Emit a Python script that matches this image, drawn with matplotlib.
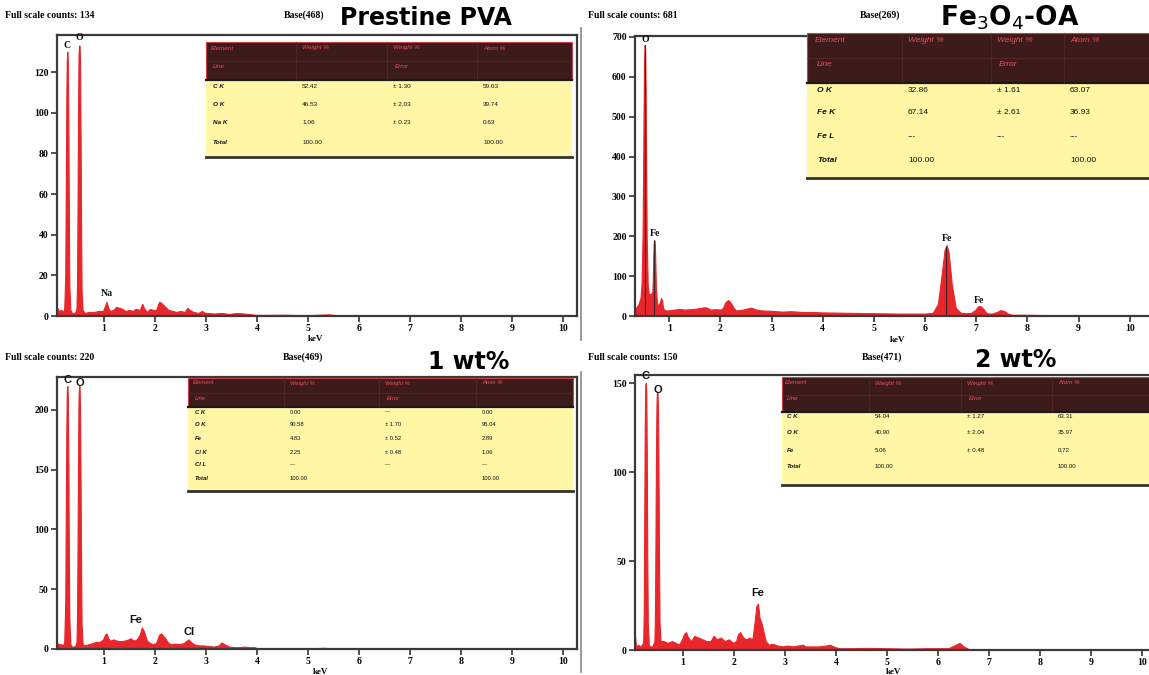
import matplotlib
matplotlib.use('Agg')
import matplotlib.pyplot as plt
from matplotlib.patches import Rectangle

# ---------------- datos de los espectros (keV, cuentas) ----------------
kev_pva = [0.05, 0.08, 0.12, 0.16, 0.20, 0.22, 0.24, 0.25, 0.26, 0.27, 0.28, 0.29, 0.30, 0.31,
           0.32, 0.34, 0.37, 0.41, 0.44, 0.46, 0.47, 0.48, 0.49, 0.50, 0.51, 0.52, 0.53, 0.54,
           0.55, 0.56, 0.58, 0.62,
           0.70, 0.80, 0.90, 0.98, 1.02, 1.05, 1.08, 1.12, 1.18, 1.24, 1.30, 1.36, 1.42, 1.50,
           1.56, 1.62, 1.70, 1.75, 1.78, 1.84, 1.90, 1.96, 2.02, 2.08, 2.12, 2.16, 2.20, 2.26,
           2.34, 2.42, 2.50, 2.58, 2.63, 2.68, 2.75, 2.85, 2.92, 2.98, 3.05, 3.15, 3.30, 3.45,
           3.60, 3.75, 3.90, 4.0, 4.5, 5.0, 5.4, 5.6, 6.0, 7.0, 8.0, 9.0, 10.3]
cts_pva = [8, 4, 2.5, 3, 2, 4, 20, 60, 105, 126, 130, 125, 95, 50,
           15, 3, 1.5, 1.5, 2, 4, 15, 50, 100, 128, 133, 133, 125, 90,
           45, 12, 3, 1.5,
           2, 2, 2.5, 2.5, 5, 7, 4, 2.5, 3, 4.5, 4, 3.5, 2.5, 3,
           2.5, 3.5, 3, 6, 4, 2, 3.5, 3, 3, 7, 6.5, 5.5, 4.5, 3,
           2.5, 2, 2.5, 2, 4, 3, 2, 1.5, 2.5, 1.5, 1.5, 1.2, 1.5, 1,
           1.5, 1.2, 0.8, 0.5, 0.6, 0.4, 0.8, 0.3, 0.3, 0.2, 0.2, 0.1, 0.1]

kev_feoa = [0.33, 0.36, 0.40, 0.44, 0.46, 0.48, 0.49, 0.50, 0.51, 0.52, 0.53, 0.54, 0.55, 0.56,
            0.58, 0.60, 0.64, 0.67, 0.68, 0.69, 0.70, 0.71, 0.72, 0.73, 0.74, 0.76, 0.78, 0.82,
            0.84, 0.86, 0.88, 0.92,
            1.0, 1.1, 1.2, 1.3, 1.4, 1.5, 1.6, 1.7, 1.75, 1.8, 1.9, 2.0, 2.05, 2.1, 2.15, 2.2,
            2.25, 2.3, 2.4, 2.5, 2.6, 2.7, 2.8, 3.0, 3.2, 3.4, 3.6, 3.8, 4.0, 4.5, 5.0, 5.5,
            6.0, 6.15, 6.25, 6.32, 6.38, 6.42, 6.46, 6.52, 6.6, 6.7, 6.8, 6.9, 6.98, 7.03, 7.08,
            7.14, 7.2, 7.3, 7.4, 7.48, 7.55, 7.62, 7.7, 8.0, 8.5, 9.0, 10.0, 10.6]
cts_feoa = [20, 22, 30, 45, 80, 200, 350, 520, 640, 680, 670, 560, 380, 200,
            80, 55, 55, 60, 90, 150, 185, 190, 180, 130, 70, 35, 25, 35,
            45, 40, 20, 14,
            14, 16, 18, 16, 17, 18, 20, 22, 20, 16, 17, 16, 20, 35, 40, 34,
            22, 14, 15, 18, 21, 16, 14, 13, 11, 12, 10, 10, 9, 8, 7, 6,
            6, 8, 30, 100, 165, 178, 160, 80, 20, 8, 7, 8, 15, 24, 25,
            18, 7, 6, 10, 15, 12, 6, 3, 3, 2, 1, 1, 1]

kev_1wt = [0.05, 0.08, 0.12, 0.16, 0.20, 0.22, 0.24, 0.25, 0.26, 0.27, 0.28, 0.29, 0.30, 0.31,
           0.32, 0.34, 0.37, 0.41, 0.44, 0.46, 0.47, 0.48, 0.49, 0.50, 0.51, 0.52, 0.53, 0.54,
           0.55, 0.56, 0.58, 0.62,
           0.70, 0.78, 0.85, 0.92, 0.98, 1.02, 1.05, 1.08, 1.12, 1.18, 1.25, 1.32, 1.40, 1.48,
           1.52, 1.58, 1.64, 1.70, 1.74, 1.78, 1.84, 1.90, 1.96, 2.02, 2.08, 2.12, 2.16, 2.20,
           2.26, 2.32, 2.40, 2.48, 2.56, 2.62, 2.66, 2.70, 2.76, 2.85, 2.95, 3.05, 3.15, 3.25,
           3.30, 3.36, 3.45, 3.55, 3.65, 3.75, 3.85, 3.95, 4.0, 4.5, 5.0, 5.3, 5.5, 6.0, 7.0,
           8.0, 9.0, 10.3]
cts_1wt = [14, 5, 4, 4, 3, 6, 40, 110, 180, 215, 220, 212, 160, 80,
           25, 4, 2, 2, 3, 6, 25, 80, 160, 210, 220, 220, 200, 140,
           70, 20, 4, 3,
           4, 5, 6, 6, 8, 12, 13, 9, 7, 8, 7, 6.5, 7, 8,
           9, 7, 8, 12, 18, 15, 7, 5, 4, 5, 12, 13, 11, 9,
           5, 4, 4.5, 4, 5, 7, 8, 6, 4, 3, 3, 2.5, 2, 3,
           5.5, 4, 2, 1.5, 1.5, 2, 1.5, 1.5, 0.6, 0.6, 0.5, 1, 0.5, 0.3, 0.8,
           0.3, 0.2, 0.2]

kev_2wt = [0.05, 0.08, 0.12, 0.16, 0.20, 0.22, 0.23, 0.24, 0.25, 0.26, 0.27, 0.28, 0.29, 0.30,
           0.31, 0.33, 0.36, 0.40, 0.44, 0.45, 0.46, 0.47, 0.48, 0.49, 0.50, 0.51, 0.52, 0.53,
           0.54, 0.56, 0.58, 0.62,
           0.70, 0.78, 0.86, 0.92, 0.98, 1.02, 1.06, 1.10, 1.16, 1.22, 1.30, 1.38, 1.46, 1.54,
           1.60, 1.66, 1.74, 1.82, 1.90, 1.98, 2.04, 2.08, 2.12, 2.18, 2.24, 2.30, 2.36, 2.40,
           2.44, 2.47, 2.50, 2.54, 2.58, 2.62, 2.68, 2.76, 2.85, 2.95, 3.05, 3.15, 3.25, 3.35,
           3.40, 3.50, 3.65, 3.80, 3.88, 3.95, 4.05, 4.3, 4.6, 5.0, 5.4, 5.8, 6.2, 6.35, 6.42,
           6.5, 6.6, 7.0, 8.0, 9.0, 10.3]
cts_2wt = [10, 2, 3, 2, 3, 5, 20, 70, 125, 148, 150, 145, 110, 50,
           15, 3, 2, 2, 5, 20, 60, 110, 138, 145, 145, 135, 100, 50,
           15, 5, 5, 5,
           4, 5, 4, 3, 6, 9, 10, 7, 5, 8, 7, 6, 5, 5,
           8, 6, 7, 5, 6, 4, 5, 9, 10, 7, 6, 7, 6, 15,
           25, 26, 18, 15, 10, 5, 3, 3.5, 2.5, 2, 2.5, 2, 2.5, 3,
           2, 2, 2, 2.5, 3, 2, 1, 1, 1.2, 1, 0.8, 1, 1, 3, 4,
           2, 0.5, 0.5, 0.4, 0.3, 0.3]

# marcadores de lineas (solo visibles en Fe3O4-OA)
marker_kev_feoa = [0.525, 0.705, 6.40]
marker_top_feoa = [680, 190, 176]

# etiquetas de picos: (texto, keV, cuentas)
labels_pva = [("C", 0.28, 131), ("O", 0.52, 135), ("Na", 1.06, 9)]
labels_feoa = [("O", 0.53, 683), ("Fe", 0.73, 195), ("Fe", 6.42, 182), ("Fe", 7.06, 28)]
labels_1wt = [("C", 0.28, 221), ("O", 0.53, 218), ("Fe", 1.62, 20), ("Cl", 2.66, 10)]
labels_2wt = [("C", 0.27, 151), ("O", 0.50, 143), ("Fe", 2.46, 29)]

# encabezados
full_scale = [134, 681, 220, 150]
base_vals = [468, 269, 469, 471]
titles = ["Prestine PVA", "Fe$_3$O$_4$-OA", "1 wt%", "2 wt%"]

# tablas de composicion
tab_head1 = ["Element", "Weight %", "Weight %", "Atom %"]
tab_head2 = ["Line", "", "Error", ""]
rows_pva = [["C K", "52.42", "± 1.30", "59.63"],
            ["O K", "46.53", "± 2.03", "39.74"],
            ["Na K", "1.06", "± 0.23", "0.63"],
            ["Total", "100.00", "", "100.00"]]
rows_feoa = [["O K", "32.86", "± 1.61", "63.07"],
             ["Fe K", "67.14", "± 2.61", "36.93"],
             ["Fe L", "---", "---", "---"],
             ["Total", "100.00", "", "100.00"]]
rows_1wt = [["C K", "0.00", "---", "0.00"],
            ["O K", "90.58", "± 1.70", "95.04"],
            ["Fe", "4.83", "± 0.52", "2.89"],
            ["Cl K", "2.25", "± 0.48", "1.06"],
            ["Cl L", "---", "---", "---"],
            ["Total", "100.00", "", "100.00"]]
rows_2wt = [["C K", "54.04", "± 1.27", "63.31"],
            ["O K", "40.90", "± 2.04", "35.97"],
            ["Fe", "5.06", "± 0.48", "0.72"],
            ["Total", "100.00", "", "100.00"]]

W, H = 1149, 675
RED = '#e8262b'
SERIF = 'Liberation Serif'
SANS = 'Liberation Sans'

fig = plt.figure(figsize=(W / 100, H / 100), dpi=100)
fig.patch.set_facecolor('white')


def px_axes(l, t, r, b):
    return fig.add_axes([l / W, 1 - b / H, (r - l) / W, (b - t) / H])


def spectrum(box, kev, cts, xlim, ylim, yticks, labels, label_font, serif_labels=True):
    ax = px_axes(*box)
    ax.fill_between(kev, 0, cts, color=RED, lw=0.8, edgecolor=RED)
    ax.set_xlim(*xlim)
    ax.set_ylim(*ylim)
    ax.set_xticks(range(1, 11))
    ax.set_yticks(yticks)
    ax.tick_params(direction='out', length=4, width=1.2, color='#333333', labelsize=7, pad=2)
    for lbl in ax.get_xticklabels() + ax.get_yticklabels():
        lbl.set_fontfamily(SERIF)
        lbl.set_fontweight('bold')
    for sp in ax.spines.values():
        sp.set_color('#3a3a3a')
        sp.set_linewidth(1.6)
    for txt, x, y in labels:
        ax.text(x, y, txt, ha='center', va='bottom', fontsize=7 if serif_labels else 8,
                fontfamily=label_font, fontweight='bold', color='#111111')
    return ax


ax1 = spectrum((57, 35, 577, 316), kev_pva, cts_pva, (0.078, 10.27), (0, 138.2),
               range(0, 121, 20), labels_pva, SERIF)
ax2 = spectrum((635, 36, 1160, 316), kev_feoa, cts_feoa, (0.332, 10.59), (0, 702.5),
               range(0, 701, 100), labels_feoa, SERIF)
ax2.vlines(marker_kev_feoa, 0, marker_top_feoa, color='#402020', lw=0.8)
ax3 = spectrum((57, 377, 577, 649), kev_1wt, cts_1wt, (0.078, 10.27), (0, 227.6),
               range(0, 201, 50), labels_1wt, SANS, serif_labels=False)
ax4 = spectrum((635, 375, 1160, 650), kev_2wt, cts_2wt, (0.059, 10.35), (0, 154.5),
               range(0, 151, 50), labels_2wt, SANS, serif_labels=False)

# capa superior en pixeles para textos y tablas
ov = fig.add_axes([0, 0, 1, 1], zorder=10)
ov.set_xlim(0, W)
ov.set_ylim(H, 0)
ov.axis('off')

head_x = [(5, 284), (588, 860), (5, 283), (588, 862)]
head_y = [15, 15, 357, 357]
for (xf, xb), y, fs, bv in zip(head_x, head_y, full_scale, base_vals):
    ov.text(xf, y, f"Full scale counts: {fs}", fontsize=7, fontfamily=SERIF,
            fontweight='bold', va='center', ha='left')
    ov.text(xb, y, f"Base({bv})", fontsize=7, fontfamily=SERIF,
            fontweight='bold', va='center', ha='left')

title_pos = [(340, 18), (940, 18), (428, 362), (975, 360)]
title_size = [17, 19, 17, 17]
for (x, y), t, s in zip(title_pos, titles, title_size):
    ov.text(x, y, t, fontsize=s, fontfamily='DejaVu Sans', fontweight='bold',
            va='center', ha='left')

for x, y in [(315, 339), (897, 340), (320, 672), (893, 672)]:
    ov.text(x, y, "keV", fontsize=6.5, fontfamily=SERIF, fontweight='bold',
            ha='center', va='center')

# bordes grises de las imagenes montadas
ov.plot([581, 581], [28, 340], color='#888888', lw=1.2)
ov.plot([581, 581], [372, 672], color='#888888', lw=1.2)


def table(x0, x1, ytop, yhdr, ybot, cols, hy, rys, rows, fs):
    ov.add_patch(Rectangle((x0, ytop), x1 - x0, yhdr - ytop, facecolor='#3e1b1b',
                           edgecolor='#c8404a', lw=0.8))
    ov.add_patch(Rectangle((x0, yhdr), x1 - x0, ybot - yhdr, facecolor='#fff6a6',
                           edgecolor='none'))
    ov.plot([x0, x1], [yhdr, yhdr], color='#1a1a1a', lw=1.6)
    ov.plot([x0, x1], [ybot, ybot], color='#333333', lw=2.0)
    ov.plot([x0, x1], [(ytop + yhdr) / 2, (ytop + yhdr) / 2], color='#5a2a2a', lw=0.5)
    for cx in cols[1:]:
        ov.plot([cx - 6, cx - 6], [ytop, yhdr], color='#5a2a2a', lw=0.5)
    for cx, h1, h2 in zip(cols, tab_head1, tab_head2):
        ov.text(cx, hy[0], h1, fontsize=fs, color='#e8505a', style='italic',
                fontfamily=SANS, va='center', ha='left')
        ov.text(cx + 2, hy[1], h2, fontsize=fs, color='#e8505a', style='italic',
                fontfamily=SANS, va='center', ha='left')
    for ry, row in zip(rys, rows):
        for j, (cx, val) in enumerate(zip(cols, row)):
            ov.text(cx + (2 if j == 0 else 0), ry, val, fontsize=fs, color='#111111',
                    style='italic' if j == 0 else 'normal', fontweight='bold' if j == 0 else 'normal',
                    fontfamily=SANS, va='center', ha='left')


table(206, 572, 42, 80, 157, [211, 302, 393, 483], (48, 67), [87, 105, 123, 142], rows_pva, 4.6)
table(807, 1152, 33, 83, 178, [815, 908, 997, 1070], (41, 65), [90, 113, 137, 160], rows_feoa, 6.0)
table(188, 573, 378, 407, 491, [193, 290, 385, 482], (383, 398),
      [412, 425, 438, 452, 465, 478], rows_1wt, 4.2)
table(782, 1152, 377, 412, 485, [785, 875, 967, 1058], (383, 399), [417, 433, 450, 467], rows_2wt, 4.4)

fig.savefig('out.png', dpi=100)
